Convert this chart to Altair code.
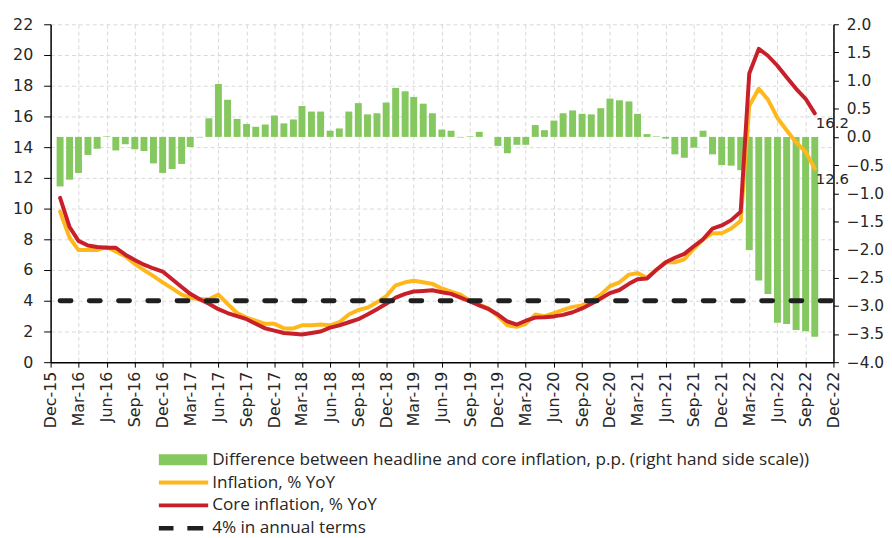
import altair as alt
import pandas as pd

# ---------------- data ----------------
months = pd.date_range("2016-01-01", periods=82, freq="MS")

inflation = [9.8, 8.1, 7.3, 7.3, 7.3, 7.5, 7.2, 6.9, 6.4, 6.0,
             5.6, 5.2, 4.8, 4.4, 4.2, 4.1, 4.1, 4.4, 3.8, 3.2,
             2.9, 2.7, 2.5, 2.5, 2.2, 2.2, 2.4, 2.4, 2.45, 2.4,
             2.6, 3.1, 3.4, 3.55, 3.9, 4.3, 5.0, 5.2, 5.3, 5.2,
             5.1, 4.8, 4.6, 4.4, 4.0, 3.75, 3.5, 3.0, 2.4, 2.3,
             2.5, 3.1, 3.0, 3.2, 3.4, 3.6, 3.7, 4.0, 4.4, 4.95,
             5.2, 5.7, 5.8, 5.5, 6.0, 6.5, 6.5, 6.7, 7.4, 8.0,
             8.4, 8.4, 8.7, 9.2, 16.7, 17.8, 17.1, 15.9, 15.1, 14.3,
             13.7, 12.6]

core = [10.7, 8.8, 7.9, 7.6, 7.5, 7.45, 7.45, 7.0, 6.65, 6.35,
        6.1, 5.9, 5.4, 4.9, 4.45, 4.1, 3.8, 3.45, 3.2, 3.0,
        2.8, 2.5, 2.2, 2.05, 1.9, 1.85, 1.8, 1.9, 2.0, 2.25,
        2.4, 2.6, 2.8, 3.1, 3.45, 3.8, 4.2, 4.45, 4.6, 4.64,
        4.68, 4.55, 4.45, 4.2, 3.95, 3.7, 3.45, 3.1, 2.65, 2.45,
        2.7, 2.9, 2.92, 2.98, 3.08, 3.25, 3.5, 3.8, 4.15, 4.5,
        4.7, 5.1, 5.4, 5.45, 6.0, 6.5, 6.8, 7.05, 7.55, 8.0,
        8.7, 8.9, 9.25, 9.8, 18.8, 20.4, 19.95, 19.3, 18.55, 17.8,
        17.15, 16.2]

difference = [-0.88, -0.76, -0.64, -0.32, -0.21, 0.01, -0.24, -0.13, -0.22, -0.25,
              -0.47, -0.64, -0.57, -0.48, -0.18, -0.01, 0.33, 0.94, 0.66, 0.32,
              0.23, 0.18, 0.22, 0.38, 0.24, 0.31, 0.55, 0.45, 0.45, 0.11,
              0.15, 0.45, 0.6, 0.4, 0.42, 0.61, 0.87, 0.81, 0.71, 0.59,
              0.42, 0.13, 0.11, -0.01, 0.01, 0.09, 0.0, -0.16, -0.29, -0.14,
              -0.14, 0.21, 0.12, 0.29, 0.42, 0.47, 0.41, 0.4, 0.51, 0.68,
              0.65, 0.63, 0.41, 0.05, 0.01, -0.03, -0.31, -0.37, -0.19, 0.11,
              -0.31, -0.5, -0.51, -0.59, -2.01, -2.55, -2.79, -3.3, -3.32, -3.43,
              -3.45, -3.55]

target_level = 4
target_start = "2016-01-01"
target_end = "2022-12-01"

series_names = [
    "Difference between headline and core inflation, p.p. (right hand side scale))",
    "Inflation, % YoY",
    "Core inflation, % YoY",
    "4% in annual terms",
]
series_colors = ["#86C860", "#FFB81C", "#C8202A", "#1F1F1F"]
legend_shapes = [
    "M-1,-0.22H0.96V0.22H-1Z",
    "M-1,-0.08H1V0.08H-1Z",
    "M-1,-0.08H1V0.08H-1Z",
    "M-1,-0.09H-0.4V0.09H-1Z M0.16,-0.09H0.8V0.09H0.16Z",
]

left_ticks = list(range(0, 23, 2))
right_ticks = [-4.0 + 0.5 * i for i in range(13)]
x_ticks = [alt.DateTime(year=2015 + (11 + 3 * i) // 12, month=(11 + 3 * i) % 12 + 1, date=1)
           for i in range(29)]

# ---------------- tables ----------------
df_diff = pd.DataFrame({"date": months, "diff": difference})
df_infl = pd.DataFrame({"date": months, "value": inflation})
df_core = pd.DataFrame({"date": months, "value": core})
df_target = pd.DataFrame({"date": [pd.Timestamp(target_start)],
                          "date2": [pd.Timestamp(target_end)],
                          "value": [target_level]})
df_last = pd.DataFrame({"date": [months[-1], months[-1]],
                        "value": [core[-1], inflation[-1]],
                        "label": [f"{core[-1]:.1f}", f"{inflation[-1]:.1f}"]})
df_legend = pd.DataFrame({"series": series_names})

AXIS_FONT = "DejaVu Sans"
LEG_FONT = "Open Sans"
TXT = "#262626"

x_axis = alt.Axis(values=x_ticks, format="%b-%y", labelAngle=-90, title=None,
                  labelFont=AXIS_FONT, labelFontSize=16, labelColor=TXT,
                  tickSize=5, tickColor="#000", domainColor="#000", domainWidth=1.5,
                  labelPadding=4, grid=True, gridColor="#D9D9D9", gridDash=[4, 3],
                  gridWidth=1, labelOverlap=False, labelFlush=False)
x_scale = alt.Scale(domain=[alt.DateTime(year=2015, month=12, date=1),
                            alt.DateTime(year=2022, month=12, date=1)],
                    padding=0, nice=False)
x_enc = alt.X("date:T", scale=x_scale, axis=x_axis)

y_left = alt.Y(
    "value:Q",
    scale=alt.Scale(domain=[0, 22], nice=False, zero=True, padding=0),
    axis=alt.Axis(values=left_ticks, orient="left", title=None,
                  labelFont=AXIS_FONT, labelFontSize=16, labelColor=TXT,
                  tickSize=7, tickColor="#000", domainColor="#000", domainWidth=1.5,
                  labelPadding=11, grid=True, gridColor="#D9D9D9", gridDash=[4, 3],
                  gridWidth=1),
)

bars = alt.Chart(df_diff).mark_bar(width=7, color=series_colors[0]).encode(
    x=x_enc,
    y=alt.Y("diff:Q",
            scale=alt.Scale(domain=[-4, 2], nice=False, padding=0),
            axis=alt.Axis(values=right_ticks, orient="right", format=".1f", title=None,
                          labelFont=AXIS_FONT, labelFontSize=15.5, labelColor=TXT,
                          tickSize=5, tickColor="#000", domainColor="#000",
                          domainWidth=1.5, labelPadding=8, labelAlign="left",
                          grid=False)),
)

infl_line = alt.Chart(df_infl).mark_line(color=series_colors[1], strokeWidth=4,
                                         strokeJoin="round", strokeCap="round").encode(
    x=x_enc, y=y_left)
core_line = alt.Chart(df_core).mark_line(color=series_colors[2], strokeWidth=4,
                                         strokeJoin="round", strokeCap="round").encode(
    x=x_enc, y=y_left)
target_rule = alt.Chart(df_target).mark_rule(color=series_colors[3], strokeWidth=5,
                                             strokeDash=[11, 18.5], strokeCap="round").encode(
    x=x_enc, x2="date2:T", y=y_left)
labels = alt.Chart(df_last).mark_text(align="left", baseline="top", dx=1, dy=3,
                                      font=AXIS_FONT, fontSize=15, color=TXT).encode(
    x=x_enc, y=y_left, text="label:N")

left_group = alt.layer(infl_line, core_line, target_rule, labels)

legend_props = dict(orient="none", legendX=109, legendY=428, direction="vertical",
                    title=None, symbolSize=2500, symbolStrokeWidth=0, symbolOpacity=1,
                    clipHeight=23, rowPadding=0, labelOffset=4, padding=0,
                    labelFont=LEG_FONT, labelFontSize=17.3, labelColor=TXT,
                    labelLimit=0, symbolOffset=0)

legend_layer = alt.Chart(df_legend).mark_point(filled=True, opacity=0).encode(
    color=alt.Color("series:N", sort=series_names,
                    scale=alt.Scale(domain=series_names, range=series_colors),
                    legend=alt.Legend(**legend_props)),
    shape=alt.Shape("series:N", sort=series_names,
                    scale=alt.Scale(domain=series_names, range=legend_shapes),
                    legend=alt.Legend(**legend_props)),
)

chart = alt.layer(bars, left_group, legend_layer).resolve_scale(
    y="independent"
).properties(
    width=790, height=341,
    autosize=alt.AutoSizeParams(type="none"),
    padding={"left": 43, "top": 14, "right": 51, "bottom": 175},
).configure_view(stroke=None)

chart.save("out.html", embed_options={"renderer": "svg", "actions": False})
